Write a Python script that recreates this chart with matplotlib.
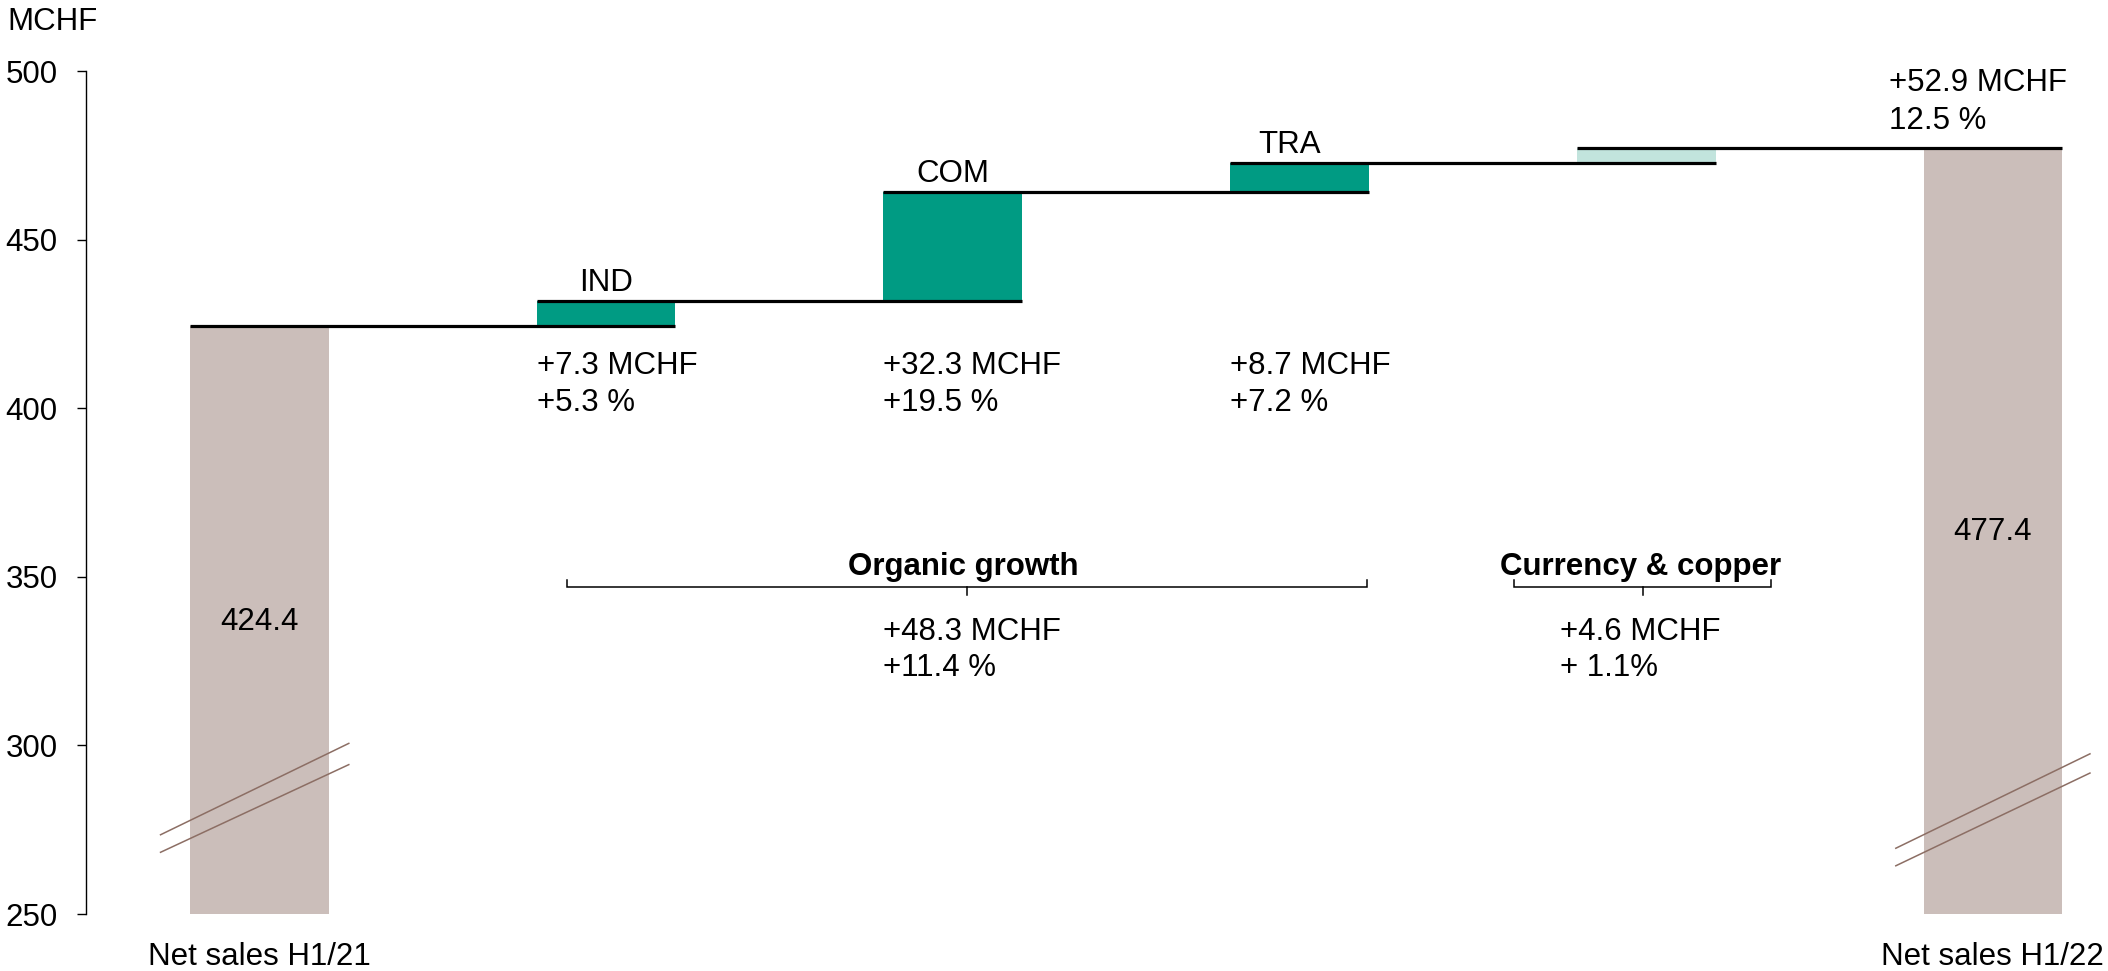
import matplotlib
matplotlib.use("Agg")
import matplotlib.pyplot as plt
import numpy as np

plt.rcParams['font.family'] = ['Liberation Sans', 'DejaVu Sans']

# Waterfall data (MCHF)
categories = ["Net sales H1/21", "IND", "COM", "TRA", "Currency & copper", "Net sales H1/22"]
start_value = 424.4
deltas = [7.3, 32.3, 8.7, 4.6]
end_value = 477.4
delta_labels = ["+7.3 MCHF", "+32.3 MCHF", "+8.7 MCHF"]
pct_labels = ["+5.3 %", "+19.5 %", "+7.2 %"]
segment_names = ["IND", "COM", "TRA"]
organic_text = ["+48.3 MCHF", "+11.4 %"]
currency_text = ["+4.6 MCHF", "+ 1.1%"]
total_text = ["+52.9 MCHF", "12.5 %"]
y_ticks = [250, 300, 350, 400, 450, 500]

GREY = "#CBBEBA"
TEAL = "#009B83"
LIGHT = "#C2E4DD"
BREAK = "#8C6E64"
FS = 22.5

fig = plt.figure(figsize=(21.08, 9.71), dpi=100)
ax = fig.add_axes([86 / 2108, 1 - 914 / 971, 1 - 86 / 2108, (914 - 71) / 971])

x = np.arange(len(categories))
w = 0.4
ymin = 250

# cumulative levels
levels = [start_value]
for d in deltas:
    levels.append(levels[-1] + d)

# totals
ax.bar(x[0], start_value - ymin, bottom=ymin, width=w, color=GREY, zorder=1)
ax.bar(x[5], end_value - ymin, bottom=ymin, width=w, color=GREY, zorder=1)
# increments
for i, d in enumerate(deltas):
    col = LIGHT if i == 3 else TEAL
    ax.bar(x[i + 1], d, bottom=levels[i], width=w, color=col, zorder=1)

# connector lines: from left edge of bar i to right edge of bar i+1
for i, lev in enumerate(levels):
    ax.plot([x[i] - w / 2, x[i + 1] + w / 2], [lev, lev], color="black", lw=2.3,
            solid_capstyle="butt", zorder=3)

# axis break marks
for xc, segs in [(x[0], [(-0.285, 273.5, 0.258, 300.6), (-0.285, 268.3, 0.258, 294.3)]),
                 (x[5], [(-0.28, 269.5, 0.28, 297.5), (-0.28, 264.3, 0.28, 291.8)])]:
    for x0, y0, x1, y1 in segs:
        ax.plot([xc + x0, xc + x1], [y0, y1], color=BREAK, lw=1.1, zorder=4, clip_on=False)

# value labels on totals
ax.text(x[0], 336.6, f"{start_value:.1f}", ha="center", va="center", fontsize=FS)
ax.text(x[5], 363.3, f"{end_value:.1f}", ha="center", va="center", fontsize=FS)

# segment names and deltas
name_offsets = [0.0, 0.0, -0.03]
for i in range(3):
    top = levels[i + 1]
    ax.text(x[i + 1] + name_offsets[i], top + 5.5, segment_names[i], ha="center", va="center",
            fontsize=FS)
    ax.text(x[i + 1] - w / 2, 412.5, delta_labels[i], ha="left", va="center", fontsize=FS)
    ax.text(x[i + 1] - w / 2, 401.5, pct_labels[i], ha="left", va="center", fontsize=FS)

# total change label
ax.text(4.70, 496.4, total_text[0], ha="left", va="center", fontsize=FS)
ax.text(4.70, 485.2, total_text[1], ha="left", va="center", fontsize=FS)


def brace(x0, x1, xm, y):
    ax.plot([x0, x0, x1, x1], [y + 2.0, y, y, y + 2.0], color="black", lw=1.1,
            solid_joinstyle="miter", zorder=3)
    ax.plot([xm, xm], [y, y - 2.5], color="black", lw=1.1, zorder=3)


brace(0.886, 3.194, 2.04, 347.0)
brace(3.62, 4.36, 3.99, 347.0)
ax.text(2.03, 352.9, "Organic growth", ha="center", va="center", fontsize=FS, fontweight="bold")
ax.text(3.985, 352.9, "Currency & copper", ha="center", va="center", fontsize=FS, fontweight="bold")
ax.text(1.8, 333.6, organic_text[0], ha="left", va="center", fontsize=FS)
ax.text(1.8, 323.0, organic_text[1], ha="left", va="center", fontsize=FS)
ax.text(3.75, 333.6, currency_text[0], ha="left", va="center", fontsize=FS)
ax.text(3.75, 323.0, currency_text[1], ha="left", va="center", fontsize=FS)

# category labels for the totals
for i in (0, 5):
    ax.text(x[i], 237.2, categories[i], ha="center", va="center", fontsize=FS, clip_on=False)

ax.set_xlim(-0.5, 5.332)
ax.set_ylim(250, 500)
ax.set_yticks(y_ticks)
ax.set_xticks([])
ax.tick_params(axis="y", labelsize=FS, length=6.5, width=1.0, pad=14, direction="out")
for s in ("top", "right", "bottom"):
    ax.spines[s].set_visible(False)
ax.spines["left"].set_linewidth(1.0)

fig.text(7 / 2108, 1 - 22 / 971, "MCHF", ha="left", va="center", fontsize=FS)

fig.savefig("out.png", dpi=100)
